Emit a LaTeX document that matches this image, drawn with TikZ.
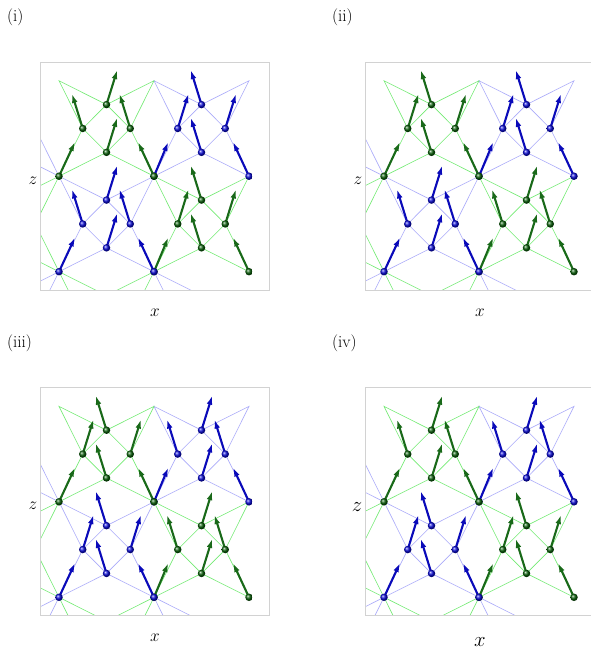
\documentclass[tikz,border=0pt]{standalone}
\usetikzlibrary{arrows.meta}
\definecolor{gl}{RGB}{115,235,115}
\definecolor{bl}{RGB}{170,170,250}
\definecolor{framegray}{RGB}{210,210,210}
\definecolor{garr}{RGB}{25,105,25}
\definecolor{barr}{RGB}{10,10,185}
\definecolor{gball}{RGB}{10,95,10}
\definecolor{bball}{RGB}{10,10,215}
\tikzset{
  gline/.style={draw=gl, line width=0.6pt},
  bline/.style={draw=bl, line width=0.6pt},
  framebox/.style={draw=framegray, line width=0.7pt},
  garrow/.style={draw=garr, line width=2.1pt, -{Latex[length=9pt,width=5.8pt]}},
  barrow/.style={draw=barr, line width=2.1pt, -{Latex[length=9pt,width=5.8pt]}},
  gdot/.style={circle, inner sep=0pt, minimum size=7.5pt, shading=ball, ball color=gball},
  bdot/.style={circle, inner sep=0pt, minimum size=7.5pt, shading=ball, ball color=bball},
  lab/.style={font=\fontsize{17}{20}\selectfont, inner sep=0pt},
  biglab/.style={font=\fontsize{22}{26}\selectfont, inner sep=0pt},
}
% arrows of the four inner atoms of a block: X0, Y0, sign, colour prefix
\newcommand\blockarrows[4]{%
  \foreach \u/\v/\f in {2/1/1,1/2/-1,3/2/-1,2/3/1}{%
    \pgfmathtruncatemacro\ii{#1+\u}%
    \pgfmathtruncatemacro\jj{#2+\v}%
    \pgfmathsetmacro\ddx{0.45*(#3)*\f}%
    \draw[#4arrow] (P\ii_\jj) -- ++(\ddx,1.445);
  }}
\newcommand\blockdots[3]{%
  \foreach \u/\v in {2/1,1/2,3/2,2/3}{%
    \pgfmathtruncatemacro\ii{#1+\u}%
    \pgfmathtruncatemacro\jj{#2+\v}%
    \node[#3dot] (D#1#2\ii\jj) at (P\ii_\jj) {};
  }}
% panel: shift, signs TL TR BL BR
\newcommand\drawpanel[5]{%
\begin{scope}[shift={#1}, x=23.75pt, y=23.87pt]
  \foreach \i in {-2,...,8} \foreach \j in {-2,...,8} {\coordinate (P\i_\j) at (\i,\j);}
  \begin{scope}
    \clip (-0.8,-0.77) rectangle (8.84,8.78);
    % outer tetrahedra
    \draw[bline] (P0_0) -- (P-1_-2) -- (P-2_-1) -- cycle;
    \draw[bline] (P4_0) -- (P5_-2) -- (P6_-1) -- cycle;
    \draw[bline] (P0_4) -- (P-2_5) -- (P-1_6) -- cycle;
    \draw[gline] (P0_0) -- (P-2_1) -- (P-1_2) -- cycle;
    \draw[gline] (P0_4) -- (P-1_2) -- (P-2_3) -- cycle;
    \draw[gline] (P0_0) -- (P1_-2) -- (P2_-1) -- cycle;
    \draw[gline] (P4_0) -- (P3_-2) -- (P2_-1) -- cycle;
    % blue blocks
    \draw[bline] (P4_4) -- (P6_5) -- (P5_6) -- cycle;
    \draw[bline] (P8_4) -- (P6_5) -- (P7_6) -- cycle;
    \draw[bline] (P4_8) -- (P5_6) -- (P6_7) -- cycle;
    \draw[bline] (P8_8) -- (P7_6) -- (P6_7) -- cycle;
    \draw[bline] (P0_0) -- (P2_1) -- (P1_2) -- cycle;
    \draw[bline] (P4_0) -- (P2_1) -- (P3_2) -- cycle;
    \draw[bline] (P0_4) -- (P1_2) -- (P2_3) -- cycle;
    \draw[bline] (P4_4) -- (P3_2) -- (P2_3) -- cycle;
    % green blocks
    \draw[gline] (P0_4) -- (P2_5) -- (P1_6) -- cycle;
    \draw[gline] (P4_4) -- (P2_5) -- (P3_6) -- cycle;
    \draw[gline] (P0_8) -- (P1_6) -- (P2_7) -- cycle;
    \draw[gline] (P4_8) -- (P3_6) -- (P2_7) -- cycle;
    \draw[gline] (P4_0) -- (P6_1) -- (P5_2) -- cycle;
    \draw[gline] (P8_0) -- (P6_1) -- (P7_2) -- cycle;
    \draw[gline] (P4_4) -- (P5_2) -- (P6_3) -- cycle;
    \draw[gline] (P8_4) -- (P7_2) -- (P6_3) -- cycle;
  \end{scope}
  \draw[framebox] (-0.8,-0.77) rectangle (8.84,8.78);
  % arrows
  \blockarrows{0}{4}{#2}{g}
  \blockarrows{4}{4}{#3}{b}
  \blockarrows{0}{0}{#4}{b}
  \blockarrows{4}{0}{#5}{g}
  \draw[garrow] (P0_4) -- ++(0.67,1.43);
  \draw[garrow] (P4_4) -- ++(-0.67,1.43);
  \draw[barrow] (P4_4) -- ++(0.6,1.43);
  \draw[barrow] (P8_4) -- ++(-0.67,1.43);
  \draw[barrow] (P0_0) -- ++(0.67,1.43);
  \draw[barrow] (P4_0) -- ++(-0.67,1.43);
  \draw[garrow] (P4_0) -- ++(0.6,1.43);
  \draw[garrow] (P8_0) -- ++(-0.67,1.43);
  % atoms
  \blockdots{0}{4}{g}
  \blockdots{4}{4}{b}
  \blockdots{0}{0}{b}
  \blockdots{4}{0}{g}
  \node[gdot] (C04) at (P0_4) {};
  \node[bdot] (C44b) at (P4_4) {};
  \node[gdot] (C44g) at (P4_4) {};
  \node[bdot] (C84) at (P8_4) {};
  \node[bdot] (C00) at (P0_0) {};
  \node[gdot] (C40g) at (P4_0) {};
  \node[bdot] (C40b) at (P4_0) {};
  \node[gdot] (C80) at (P8_0) {};
\end{scope}}

\begin{document}
\begin{tikzpicture}[x=1pt,y=1pt]
\useasboundingbox (0,0) rectangle (591,653);
\fill[white] (0,0) rectangle (591,653);
\drawpanel{(59pt,381.3pt)}{1}{-1}{1}{-1}
\drawpanel{(384pt,381.3pt)}{-1}{-1}{1}{1}
\drawpanel{(59pt,55.7pt)}{-1}{1}{-1}{1}
\drawpanel{(384pt,55.7pt)}{1}{1}{-1}{-1}
% labels
\node[lab, anchor=base west] (l1) at (7,631.5) {(i)};
\node[lab, anchor=base west] (l2) at (332,631.5) {(ii)};
\node[lab, anchor=base west] (l3) at (7,305) {(iii)};
\node[lab, anchor=base west] (l4) at (332,305) {(iv)};
\node[lab] (z1) at (33,472) {$z$};
\node[lab] (z2) at (358,472) {$z$};
\node[lab] (z3) at (33,147) {$z$};
\node[biglab] (z4) at (357,146) {$z$};
\node[lab] (x1) at (155,340) {$x$};
\node[lab] (x2) at (480,340) {$x$};
\node[lab] (x3) at (155,15) {$x$};
\node[biglab] (x4) at (480,11) {$x$};
\end{tikzpicture}
\end{document}
